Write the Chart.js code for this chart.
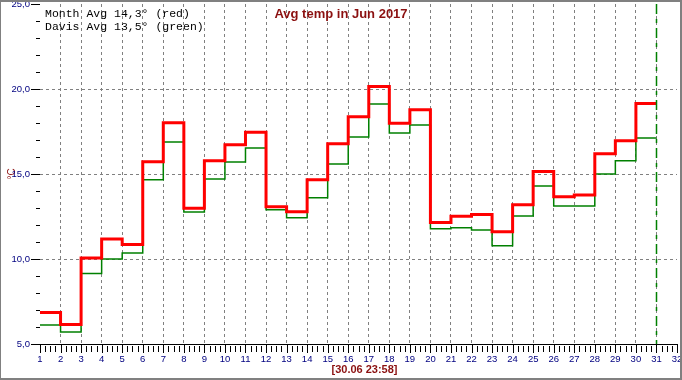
<!DOCTYPE html>
<html>
<head>
<meta charset="utf-8">
<script src="https://cdn.jsdelivr.net/npm/chart.js@4"></script>
<style>
  html, body { margin: 0; padding: 0; background: #fff; }
  #wrap { width: 682px; height: 380px; position: relative; }
</style>
</head>
<body>
<div id="wrap"><canvas id="c" width="682" height="380"></canvas></div>
<script>
const days = [1,2,3,4,5,6,7,8,9,10,11,12,13,14,15,16,17,18,19,20,21,22,23,24,25,26,27,28,29,30];
const monthAvg = [6.85, 6.15, 10.06, 11.18, 10.86, 15.72, 18.02, 12.98, 15.78, 16.72, 17.45, 13.08, 12.78, 14.66, 16.78, 18.37, 20.14, 17.98, 18.78, 12.15, 12.51, 12.62, 11.61, 13.19, 15.15, 13.66, 13.76, 16.19, 16.96, 19.14];
const davisAvg = [6.12, 5.71, 9.14, 10.0, 10.35, 14.66, 16.88, 12.76, 14.71, 15.71, 16.53, 12.9, 12.43, 13.6, 15.59, 17.18, 19.12, 17.41, 17.88, 11.78, 11.84, 11.71, 10.78, 12.53, 14.29, 13.12, 13.12, 15.0, 15.78, 17.12];
const xRange = [1, 32];
const yRange = [5, 25];
const yGridValues = [10, 15, 20];
const markerDay = 31;
const titleText = 'Avg temp in Jun 2017';
const legendLines = ['Month Avg 14,3\u00b0 (red)', 'Davis Avg 13,5\u00b0 (green)'];
const footerText = '[30.06 23:58]';
const yUnit = '\u00b0C';

function stepPoints(xs, ys) {
  const pts = xs.map((d, i) => ({x: d, y: ys[i]}));
  pts.push({x: xs[xs.length - 1] + 1, y: ys[ys.length - 1]});
  return pts;
}

const DARKRED = '#8b1010';
const NAVY = '#000080';

function zeroPad(s) { s.paddingLeft = 0; s.paddingRight = 0; s.paddingTop = 0; s.paddingBottom = 0; }

const decor = {
  id: 'decor',
  afterDatasetsDraw(chart) {
    const {ctx, chartArea: a, scales: {x, y}} = chart;
    ctx.save();
    ctx.strokeStyle = '#000';
    ctx.lineWidth = 1;
    ctx.beginPath();
    for (let v = xRange[0]; v <= xRange[1] + 1e-9; v += 0.25) {
      const px = Math.round(x.getPixelForValue(v)) + 0.5;
      const major = Math.abs(v - Math.round(v)) < 1e-9;
      ctx.moveTo(px, a.bottom + (major ? 0 : 2));
      ctx.lineTo(px, a.bottom + (major ? 9 : 8));
    }
    for (let v = yRange[0]; v <= yRange[1]; v += 1) {
      const py = Math.round(y.getPixelForValue(v)) + 0.5;
      const major = v % 5 === 0;
      ctx.moveTo(a.left - (major ? 9 : 4), py);
      ctx.lineTo(a.left, py);
    }
    ctx.stroke();
    const mx = Math.round(x.getPixelForValue(markerDay)) + 0.5;
    ctx.strokeStyle = '#008000';
    ctx.lineWidth = 1.5;
    ctx.setLineDash([10, 5, 4, 5]);
    ctx.beginPath();
    ctx.moveTo(mx, a.top);
    ctx.lineTo(mx, a.bottom);
    ctx.stroke();
    ctx.setLineDash([]);
    ctx.fillStyle = '#000';
    ctx.font = "11.5px 'Liberation Mono', 'Courier New', monospace";
    ctx.textBaseline = 'alphabetic';
    ctx.textAlign = 'left';
    ctx.fillText(legendLines[0], 45, 16.7);
    ctx.fillText(legendLines[1], 45, 29.5);
    ctx.fillStyle = DARKRED;
    ctx.font = "bold 13px 'Liberation Sans', Arial, sans-serif";
    ctx.textAlign = 'center';
    ctx.fillText(titleText, 341, 17.5);
    ctx.font = "bold 11px 'Liberation Sans', Arial, sans-serif";
    ctx.fillText(footerText, 364.5, 373);
    ctx.fillStyle = '#808080';
    ctx.fillRect(0, 0, 682, 2);
    ctx.fillRect(0, 0, 1, 380);
    ctx.fillRect(680, 0, 2, 380);
    ctx.fillRect(0, 378, 682, 2);
    ctx.restore();
  }
};

Chart.defaults.font.family = "'Liberation Sans', Arial, sans-serif";

new Chart(document.getElementById('c'), {
  type: 'line',
  data: {
    datasets: [
      {
        data: stepPoints(days, monthAvg),
        borderColor: '#ff0000',
        borderWidth: 3,
        stepped: true,
        pointRadius: 0,
        fill: false
      },
      {
        data: stepPoints(days, davisAvg),
        borderColor: '#008000',
        borderWidth: 1.5,
        stepped: true,
        pointRadius: 0,
        fill: false
      }
    ]
  },
  options: {
    responsive: false,
    devicePixelRatio: 1,
    animation: false,
    layout: { padding: { left: 0, top: 4, right: 5, bottom: 0 } },
    plugins: { legend: { display: false }, tooltip: { enabled: false }, title: { display: false } },
    scales: {
      x: {
        type: 'linear',
        min: xRange[0],
        max: xRange[1],
        afterFit: s => { s.height = 36; zeroPad(s); },
        ticks: {
          stepSize: 1,
          autoSkip: false,
          maxRotation: 0,
          color: NAVY,
          font: { size: 9.5 },
          padding: 10,
          callback: v => String(v)
        },
        grid: {
          drawTicks: false,
          color: c => (c.tick && c.tick.value > xRange[0] && c.tick.value < xRange[1]) ? '#808080' : 'rgba(0,0,0,0)',
          lineWidth: 1
        },
        border: { display: true, color: '#000', width: 1, dash: [3, 3] }
      },
      y: {
        min: yRange[0],
        max: yRange[1],
        afterFit: s => { s.width = 40; zeroPad(s); },
        ticks: {
          stepSize: 1,
          autoSkip: false,
          color: NAVY,
          font: { size: 9.5 },
          padding: 10,
          callback: v => (v % 5 === 0 ? v.toFixed(1).replace('.', ',') : '')
        },
        grid: {
          drawTicks: false,
          color: c => (c.tick && yGridValues.includes(c.tick.value)) ? '#808080' : 'rgba(0,0,0,0)',
          lineWidth: 1
        },
        border: { display: false, dash: [3, 3] },
        title: {
          display: true,
          text: yUnit,
          color: DARKRED,
          font: { size: 10 },
          padding: { top: 6, bottom: 0 }
        }
      }
    }
  },
  plugins: [decor]
});
</script>
</body>
</html>
